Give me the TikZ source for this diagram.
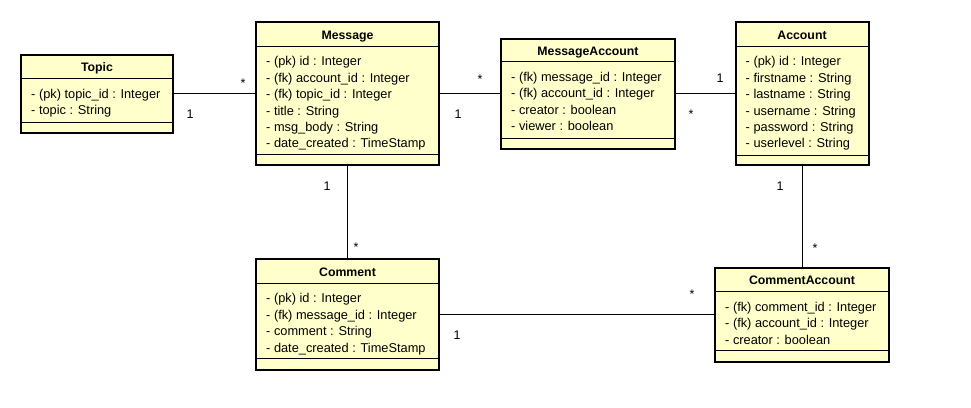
\documentclass[tikz,border=0pt]{standalone}
\usepackage{fontspec}
\setmainfont{Liberation Sans}
\definecolor{umlyellow}{RGB}{255,255,204}
\tikzset{
  classbox/.style={draw, line width=2pt, fill=umlyellow, inner sep=0pt},
  classtitle/.style={font=\fontsize{12.3}{14}\selectfont\bfseries, inner sep=0pt, anchor=base},
  attrs/.style={anchor=north west, inner sep=0pt, align=left, font=\fontsize{12.8}{16.4}\selectfont},
  sep/.style={line width=1pt},
  assoc/.style={line width=1pt},
  mult/.style={font=\fontsize{12.5}{14}\selectfont, inner sep=0pt}
}
\begin{document}
\begin{tikzpicture}[x=1pt, y=-1pt]
            \useasboundingbox (0,0) rectangle (971,407);

            % Topic
            \node[classbox, minimum width=152pt, minimum height=78pt] (topic) at (97,93.5) {};
            \node[classtitle] (topic-title) at ([yshift=-18pt]topic.north) {Topic};
            \draw[sep] ([yshift=-25pt]topic.north west) -- ([yshift=-25pt]topic.north east);
            \draw[sep] ([yshift=11pt]topic.south west) -- ([yshift=11pt]topic.south east);
            \node[attrs] (topic-attrs) at ([xshift=11pt, yshift=-35.5pt]topic.north west)
                {- (pk) topic\_id : Integer\\- topic : String};

            % Message
            \node[classbox, minimum width=183pt, minimum height=143pt] (message) at (347.5,93.5) {};
            \node[classtitle] (message-title) at ([yshift=-18pt]message.north) {Message};
            \draw[sep] ([yshift=-25pt]message.north west) -- ([yshift=-25pt]message.north east);
            \draw[sep] ([yshift=12pt]message.south west) -- ([yshift=12pt]message.south east);
            \node[attrs] (message-attrs) at ([xshift=11pt, yshift=-35.5pt]message.north west)
                {- (pk) id : Integer\\- (fk) account\_id : Integer\\- (fk) topic\_id : Integer\\
                 - title : String\\- msg\_body : String\\- date\_created : TimeStamp};

            % MessageAccount
            \node[classbox, minimum width=174pt, minimum height=110pt] (msgacc) at (588,93.5) {};
            \node[classtitle] (msgacc-title) at ([yshift=-18pt]msgacc.north) {MessageAccount};
            \draw[sep] ([yshift=-24pt]msgacc.north west) -- ([yshift=-24pt]msgacc.north east);
            \draw[sep] ([yshift=11pt]msgacc.south west) -- ([yshift=11pt]msgacc.south east);
            \node[attrs] (msgacc-attrs) at ([xshift=11pt, yshift=-34.5pt]msgacc.north west)
                {- (fk) message\_id : Integer\\- (fk) account\_id : Integer\\
                 - creator : boolean\\- viewer : boolean};

            % Account
            \node[classbox, minimum width=133pt, minimum height=143pt] (account) at (802,93.5) {};
            \node[classtitle] (account-title) at ([yshift=-18pt]account.north) {Account};
            \draw[sep] ([yshift=-25pt]account.north west) -- ([yshift=-25pt]account.north east);
            \draw[sep] ([yshift=11pt]account.south west) -- ([yshift=11pt]account.south east);
            \node[attrs] (account-attrs) at ([xshift=11pt, yshift=-35.5pt]account.north west)
                {- (pk) id : Integer\\- firstname : String\\- lastname : String\\
                 - username : String\\- password : String\\- userlevel : String};

            % Comment
            \node[classbox, minimum width=183pt, minimum height=111pt] (comment) at (347.5,314.5) {};
            \node[classtitle] (comment-title) at ([yshift=-18pt]comment.north) {Comment};
            \draw[sep] ([yshift=-25pt]comment.north west) -- ([yshift=-25pt]comment.north east);
            \draw[sep] ([yshift=13pt]comment.south west) -- ([yshift=13pt]comment.south east);
            \node[attrs] (comment-attrs) at ([xshift=11pt, yshift=-35.5pt]comment.north west)
                {- (pk) id : Integer\\- (fk) message\_id : Integer\\
                 - comment : String\\- date\_created : TimeStamp};

            % CommentAccount
            \node[classbox, minimum width=174pt, minimum height=94pt] (comacc) at (802,314.5) {};
            \node[classtitle] (comacc-title) at ([yshift=-18pt]comacc.north) {CommentAccount};
            \draw[sep] ([yshift=-25pt]comacc.north west) -- ([yshift=-25pt]comacc.north east);
            \draw[sep] ([yshift=12pt]comacc.south west) -- ([yshift=12pt]comacc.south east);
            \node[attrs] (comacc-attrs) at ([xshift=11pt, yshift=-35.5pt]comacc.north west)
                {- (fk) comment\_id : Integer\\- (fk) account\_id : Integer\\- creator : boolean};

            % associations
            \draw[assoc] (topic.east) -- (message.west);
            \draw[assoc] (message.east) -- (msgacc.west);
            \draw[assoc] (msgacc.east) -- (account.west);
            \draw[assoc] (message.south) -- (comment.north);
            \draw[assoc] (account.south) -- (comacc.north);
            \draw[assoc] (comment.east) -- (comacc.west);

            % multiplicities
            \node[mult] (m-topic) at (190,114) {1};
            \node[mult] (m-msg-t) at (243,83) {*};
            \node[mult] (m-msg-a) at (458,114) {1};
            \node[mult] (m-msgacc-m) at (480,79) {*};
            \node[mult] (m-msgacc-a) at (691,114) {*};
            \node[mult] (m-acc-m) at (720,78) {1};
            \node[mult] (m-msg-c) at (327,186) {1};
            \node[mult] (m-com-m) at (356,247) {*};
            \node[mult] (m-acc-c) at (780,186) {1};
            \node[mult] (m-comacc-a) at (815,248) {*};
            \node[mult] (m-com-ca) at (457,335) {1};
            \node[mult] (m-comacc-c) at (692,294) {*};
        \end{tikzpicture}
\end{document}
